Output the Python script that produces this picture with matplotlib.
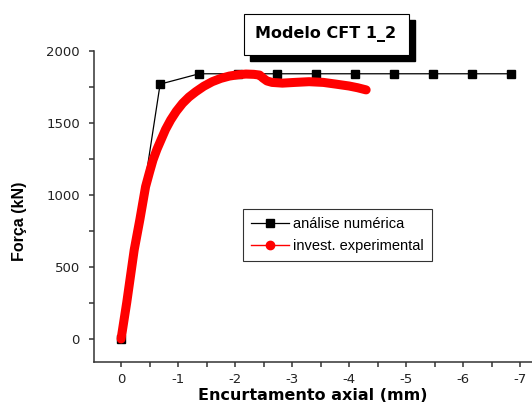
import numpy as np
from matplotlib import pyplot as plt
from matplotlib.ticker import MultipleLocator
from matplotlib.patches import Rectangle

plt.rcParams['font.family'] = ['DejaVu Sans']

# numerical analysis (black squares)
num_x = [0.0, -0.685, -1.37, -2.055, -2.74, -3.425, -4.11, -4.795, -5.48, -6.165, -6.85]
num_y = [0, 1770, 1842, 1842, 1842, 1842, 1842, 1842, 1842, 1842, 1842]

# experimental data (red)
exp_x = [0.0, -0.1, -0.23, -0.33, -0.43, -0.5, -0.56, -0.63, -0.7, -0.78, -0.87,
         -0.97, -1.08, -1.19, -1.31, -1.45, -1.6, -1.75, -1.9, -2.05, -2.19,
         -2.33, -2.43, -2.49, -2.56, -2.65, -2.83, -3.05, -3.3, -3.55, -3.77,
         -4.0, -4.15, -4.3]
exp_y = [0, 255, 618, 830, 1058, 1160, 1243, 1318, 1382, 1455, 1521,
         1582, 1637, 1680, 1717, 1755, 1787, 1810, 1826, 1835, 1840,
         1838, 1833, 1812, 1792, 1782, 1777, 1782, 1787, 1782, 1770,
         1757, 1745, 1730]

fig = plt.figure(figsize=(5.32, 4.03), dpi=100)
ax = fig.add_axes([0.1767, 0.1017, 0.8233, 0.7717])

ax.plot(num_x, num_y, color='black', lw=0.9, marker='s', ms=5.5,
        label='análise numérica', zorder=2)
ax.plot(exp_x, exp_y, color='red', lw=6.5, solid_capstyle='round',
        solid_joinstyle='round', zorder=3)
# legend proxy for the experimental curve
ax.plot([], [], color='red', lw=1, marker='o', ms=6, label='invest. experimental')

ax.set_xlim(0.475, -7.21)
ax.set_ylim(-160, 2000)

ax.xaxis.set_minor_locator(MultipleLocator(0.5))
ax.yaxis.set_major_locator(MultipleLocator(500))
ax.yaxis.set_minor_locator(MultipleLocator(250))
ax.set_xticks(range(0, -8, -1))
ax.set_xticklabels(['0', '-1', '-2', '-3', '-4', '-5', '-6', '-7'])

for s in ['top', 'right']:
    ax.spines[s].set_visible(False)
for s in ['left', 'bottom']:
    ax.spines[s].set_color('#333333')
    ax.spines[s].set_linewidth(1.1)

ax.tick_params(which='both', direction='out', length=3.6, width=1.1,
               color='#333333', labelsize=9.5, labelcolor='#222222')
ax.tick_params(axis='x', pad=4.5)
ax.tick_params(axis='y', pad=6.5)

ax.set_xlabel('Encurtamento axial (mm)', fontsize=11.5, fontweight='bold')
ax.xaxis.set_label_coords(0.5, (362 - 388) / 311)
ax.set_ylabel('Força (kN)', fontsize=11.5, fontweight='bold',
              family=['Liberation Sans', 'DejaVu Sans'])
ax.yaxis.set_label_coords((27 - 94) / 438, (362 - 221) / 311)

leg = fig.legend(loc='upper left', bbox_to_anchor=(243 / 532, 1 - 209 / 403),
                 bbox_transform=fig.transFigure,
                 prop={'family': ['Liberation Sans', 'DejaVu Sans'], 'size': 10.5},
                 frameon=True, fancybox=False, edgecolor='black', handlelength=2.6,
                 borderpad=0.55, labelspacing=0.55, handletextpad=0.3, borderaxespad=0)
leg.get_frame().set_linewidth(0.8)

# title box with shadow
fig.patches.append(Rectangle((250 / 532, 1 - 61 / 403), 165 / 532, 41 / 403,
                             transform=fig.transFigure, facecolor='black',
                             edgecolor='black', zorder=1))
fig.patches.append(Rectangle((244 / 532, 1 - 55 / 403), 165 / 532, 41 / 403,
                             transform=fig.transFigure, facecolor='white',
                             edgecolor='black', lw=0.8, zorder=2))
fig.text(326 / 532, 1 - 34 / 403, 'Modelo CFT 1_2', fontsize=11.5,
         fontweight='bold', ha='center', va='center', zorder=3)

fig.savefig('out.png', dpi=100)
